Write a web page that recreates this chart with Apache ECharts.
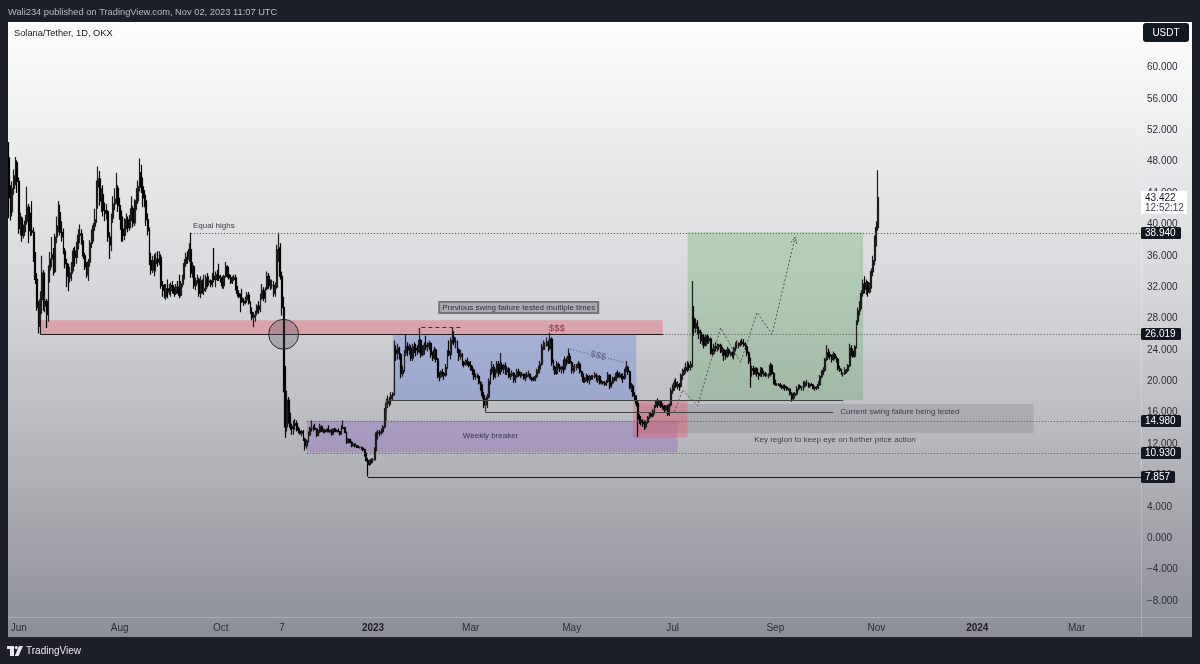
<!DOCTYPE html>
<html><head><meta charset="utf-8">
<script src="https://cdn.jsdelivr.net/npm/echarts@6.0.0/dist/echarts.min.js"></script>
<style>html,body{margin:0;padding:0;background:#1e2029;}#c{width:1200px;height:664px;}</style>
</head><body><div id="c"></div>
<script>
// ---------- categories / ticks ----------
const START_DATE = '2022-05-26';
const DAY_COUNT = 685;
const tickLabels = [
  ['2022-06-01','Jun'],['2022-08-01','Aug'],['2022-10-01','Oct'],['2022-11-07','7'],
  ['2023-01-01','2023'],['2023-03-01','Mar'],['2023-05-01','May'],['2023-07-01','Jul'],
  ['2023-09-01','Sep'],['2023-11-01','Nov'],['2024-01-01','2024'],['2024-03-01','Mar']
];
const yearLabels = ['2023','2024'];

// ---------- daily candles [open, close, low, high] (SOL/USDT, OKX, 1D) ----------
const may22 = [[48.5,43.4,40.8,50.5],[43.4,41.6,40.5,45.0],[41.6,44.6,41.0,45.5],[44.6,46.2,43.8,47.0],[46.2,47.9,45.0,48.6],[47.9,45.5,44.0,48.2]];
const jun22 = [[45.5,39.5,38.8,46.0],[39.5,40.8,38.6,41.5],[40.8,38.6,37.8,41.0],[38.6,39.4,38.2,40.0],[39.4,40.4,39.0,41.2],[40.4,42.2,40.0,44.8],[42.2,39.8,37.6,42.6],[39.8,39.2,38.5,41.5],[39.2,39.0,38.6,43.0],[39.0,35.8,35.2,39.6],[35.8,33.0,32.4,36.5],[33.0,29.4,29.0,33.8],[29.4,27.0,26.1,30.2],[27.0,30.4,26.0,31.5],[30.4,33.8,28.6,36.0],[33.8,29.6,29.0,34.2],[29.6,30.2,28.8,31.5],[30.2,28.5,26.8,30.5],[28.5,34.2,27.6,34.8],[34.2,35.6,32.6,36.5],[35.6,36.2,34.5,38.4],[36.2,34.0,33.5,37.0],[34.0,38.4,33.8,38.8],[38.4,39.8,37.6,41.0],[39.8,41.5,39.0,43.0],[41.5,39.0,38.6,42.5],[39.0,38.4,37.8,40.4],[38.4,36.6,36.2,39.5],[36.6,35.0,34.4,37.0],[35.0,33.4,32.0,35.6]];
const jul22 = [[33.4,33.2,31.5,35.0],[33.2,33.8,32.6,34.6],[33.8,34.5,32.8,35.2],[34.5,36.6,34.0,37.0],[36.6,35.8,34.6,37.2],[35.8,37.2,35.0,37.8],[37.2,38.6,36.8,39.4],[38.6,38.8,37.6,40.0],[38.8,37.8,37.4,39.4],[37.8,36.0,35.6,38.0],[36.0,34.6,34.2,36.4],[34.6,33.6,33.2,35.2],[33.6,35.2,32.8,35.6],[35.2,37.6,34.6,38.0],[37.6,38.8,37.0,39.4],[38.8,39.8,37.8,40.2],[39.8,40.6,39.2,42.0],[40.6,44.8,40.2,45.6],[44.8,45.8,42.0,47.4],[45.8,43.0,42.4,46.8],[43.0,43.8,41.6,44.6],[43.8,41.8,41.0,45.0],[41.8,41.4,40.4,42.8],[41.4,41.6,40.6,42.6],[41.6,38.4,37.8,41.8],[38.4,37.4,35.6,39.0],[37.4,40.8,36.6,41.4],[40.8,42.6,40.2,43.6],[42.6,43.2,41.8,44.6],[43.2,44.6,42.6,46.6],[44.6,42.4,41.6,45.0]];
const aug22 = [[42.4,41.2,40.6,43.4],[41.2,39.4,37.8,41.8],[39.4,38.6,37.8,41.0],[38.6,40.0,38.0,40.8],[40.0,40.6,39.4,41.4],[40.6,39.6,39.0,41.0],[39.6,40.8,39.2,41.2],[40.8,42.0,40.4,43.6],[42.0,40.2,39.6,42.4],[40.2,42.6,39.8,43.2],[42.6,43.0,41.8,44.6],[43.0,44.8,42.6,45.6],[44.8,46.6,44.2,48.4],[46.6,44.8,44.0,47.6],[44.8,43.4,42.2,46.0],[43.4,43.0,42.2,44.4],[43.0,40.6,39.8,43.8],[40.6,39.2,38.6,41.4],[39.2,35.4,34.8,39.6],[35.4,34.2,33.6,36.4],[34.2,35.4,33.8,36.0],[35.4,35.0,33.4,36.2],[35.0,35.6,34.0,36.4],[35.6,35.2,34.6,36.6],[35.2,35.8,34.8,36.6],[35.8,32.2,31.8,36.2],[32.2,31.6,30.8,32.8],[31.6,30.8,30.6,32.4],[30.8,31.8,30.4,32.4],[31.8,31.4,30.6,33.0],[31.4,31.6,31.0,32.4]];
const sep22 = [[31.6,32.2,30.8,32.6],[32.2,31.6,31.2,32.8],[31.6,31.2,30.8,32.0],[31.2,32.0,31.0,32.4],[32.0,31.8,31.2,32.8],[31.8,31.0,30.6,33.6],[31.0,32.4,30.8,32.8],[32.4,33.2,32.0,33.6],[33.2,35.0,33.0,35.6],[35.0,35.8,34.6,36.4],[35.8,35.6,35.0,36.6],[35.6,36.8,35.2,37.6],[36.8,33.8,33.2,38.94],[33.8,34.6,33.2,35.2],[34.6,32.2,31.8,34.8],[32.2,32.8,31.6,33.2],[32.8,33.0,32.4,33.6],[33.0,31.2,30.8,33.2],[31.2,32.8,30.6,33.4],[32.8,31.6,31.2,33.0],[31.6,31.8,31.0,33.6],[31.8,33.2,31.4,33.6],[33.2,32.6,32.0,33.8],[32.6,32.8,32.2,33.4],[32.8,32.4,32.0,33.0],[32.4,33.4,32.0,33.8],[33.4,33.0,32.6,37.0],[33.0,33.6,32.0,34.0],[33.6,33.4,32.8,34.2],[33.4,33.2,32.8,35.0]];
const oct22 = [[33.2,33.0,32.6,33.6],[33.0,32.2,31.8,33.4],[32.2,33.4,31.8,33.6],[33.4,34.6,33.2,35.2],[34.6,33.6,33.2,34.8],[33.6,33.2,33.0,34.6],[33.2,32.6,32.4,33.6],[32.6,33.0,32.4,33.4],[33.0,33.2,32.8,33.6],[33.2,32.0,31.6,33.6],[32.0,31.2,30.8,32.2],[31.2,30.8,30.6,31.6],[30.8,30.6,28.8,31.2],[30.6,30.2,30.0,31.8],[30.2,30.0,29.6,30.6],[30.0,30.4,29.8,30.8],[30.4,31.0,30.0,31.4],[31.0,30.0,29.8,31.4],[30.0,28.8,28.6,30.2],[28.8,28.2,27.8,29.4],[28.2,28.4,26.9,28.8],[28.4,28.8,27.6,29.0],[28.8,29.6,28.4,29.8],[29.6,29.2,28.6,30.2],[29.2,30.6,28.8,31.2],[30.6,31.6,30.4,32.4],[31.6,30.6,30.2,32.0],[30.6,31.8,30.0,32.0],[31.8,33.4,31.6,34.0],[33.4,32.2,31.8,33.8],[32.2,32.2,31.6,33.0]];
const nov22 = [[32.2,32.2,31.8,33.0],[32.2,31.2,30.8,32.8],[31.2,32.0,30.8,32.6],[32.0,36.8,31.8,37.4],[36.8,37.0,35.2,38.94],[37.0,33.4,33.0,37.6],[33.4,29.4,28.4,34.0],[29.4,21.6,18.6,30.8],[21.6,14.2,12.8,22.0],[14.2,17.6,13.6,18.8],[17.6,15.6,14.6,18.0],[15.6,14.2,13.8,16.0],[14.2,14.0,13.2,14.6],[14.0,14.4,13.2,15.0],[14.4,14.6,13.8,15.2],[14.6,13.8,13.6,15.0],[13.8,13.6,13.4,14.2],[13.6,13.4,13.2,14.0],[13.4,13.6,13.0,13.8],[13.6,12.6,12.4,13.8],[12.6,11.8,11.2,12.8],[11.8,12.4,11.4,12.6],[12.4,13.2,12.2,13.6],[13.2,14.0,13.0,14.2],[14.0,14.0,13.6,15.0],[14.0,14.0,13.6,14.4],[14.0,13.9,13.8,14.6],[13.9,13.1,12.9,14.0],[13.1,13.6,13.0,13.8],[13.6,14.2,13.4,14.6]];
const dec22 = [[14.2,13.7,13.5,14.4],[13.7,13.8,13.4,14.0],[13.8,13.6,13.4,13.9],[13.6,13.9,13.5,14.0],[13.9,13.6,13.5,14.4],[13.6,13.8,13.4,13.9],[13.8,13.3,13.1,13.9],[13.3,13.9,13.2,14.0],[13.9,13.6,13.5,14.1],[13.6,13.7,13.5,13.9],[13.7,13.6,13.5,14.0],[13.6,13.3,13.1,13.7],[13.3,14.0,13.2,14.4],[14.0,14.1,13.9,15.0],[14.1,13.5,13.4,14.2],[13.5,12.2,12.0,13.6],[12.2,12.6,12.1,12.8],[12.6,12.2,12.1,12.7],[12.2,11.8,11.6,12.4],[11.8,12.0,11.7,12.3],[12.0,11.8,11.6,12.1],[11.8,11.7,11.5,11.9],[11.7,11.6,11.5,11.9],[11.6,11.6,11.4,11.7],[11.6,11.5,11.3,11.7],[11.5,11.3,11.1,11.6],[11.3,10.8,10.4,11.4],[10.8,9.9,9.8,10.9],[9.9,9.4,7.86,10.2],[9.4,9.6,9.2,10.0],[9.6,10.0,9.5,10.2]];
const jan23 = [[10.0,10.0,9.6,10.2],[10.0,11.3,9.9,11.6],[11.3,13.4,11.1,13.6],[13.4,13.5,12.6,13.8],[13.5,13.4,13.0,13.8],[13.4,13.6,13.2,14.0],[13.6,14.2,13.4,14.4],[14.2,16.2,14.0,16.6],[16.2,17.2,16.0,17.8],[17.2,17.6,16.6,18.2],[17.6,17.8,16.8,18.0],[17.8,18.2,17.0,18.6],[18.2,18.4,17.6,18.6],[18.4,24.0,18.2,25.2],[24.0,23.6,22.6,24.6],[23.6,24.2,22.8,24.8],[24.2,23.4,22.8,24.4],[23.4,21.0,20.4,23.6],[21.0,21.4,20.6,22.0],[21.4,23.6,21.2,24.0],[23.6,24.4,23.2,26.0],[24.4,24.0,23.2,25.0],[24.0,24.2,23.4,24.8],[24.2,23.0,22.6,24.6],[23.0,24.4,22.6,24.8],[24.4,24.2,23.6,25.0],[24.2,24.0,23.2,24.8],[24.0,23.8,23.4,24.6],[23.8,25.2,23.6,26.8],[25.2,23.4,23.0,25.4],[23.4,24.2,23.2,24.6]];
const feb23 = [[24.2,24.6,23.4,25.0],[24.6,24.4,24.0,25.8],[24.4,24.6,23.8,25.0],[24.6,24.8,24.0,25.2],[24.8,23.4,23.0,25.0],[23.4,23.0,22.6,23.8],[23.0,24.0,22.8,24.4],[24.0,22.8,22.4,24.2],[22.8,20.8,20.4,23.0],[20.8,20.6,20.0,21.2],[20.6,21.2,20.4,21.4],[21.2,21.0,20.6,21.6],[21.0,20.8,20.2,21.2],[20.8,21.8,20.6,22.2],[21.8,23.8,21.6,24.0],[23.8,23.4,23.2,25.2],[23.4,25.2,22.8,25.6],[25.2,25.6,24.8,26.9],[25.6,25.0,24.6,26.4],[25.0,25.0,24.2,25.6],[25.0,24.0,23.6,25.2],[24.0,23.2,22.6,24.2],[23.2,23.4,22.8,24.0],[23.4,22.4,22.0,23.6],[22.4,22.2,21.8,22.6],[22.2,22.6,22.0,22.8],[22.6,22.4,22.0,23.0],[22.4,22.0,21.8,22.6]];
const mar23 = [[22.0,21.8,21.4,22.6],[21.8,21.4,20.8,22.0],[21.4,20.6,20.2,21.6],[20.6,20.6,20.2,21.0],[20.6,20.6,20.4,21.0],[20.6,19.8,19.6,20.8],[19.8,19.4,18.8,20.0],[19.4,18.2,17.8,19.6],[18.2,17.0,16.6,18.6],[17.0,17.4,16.2,17.8],[17.4,18.0,16.6,18.4],[18.0,20.0,17.8,20.4],[20.0,21.2,19.6,21.6],[21.2,21.8,20.8,22.6],[21.8,20.6,20.2,22.2],[20.6,21.2,20.4,21.6],[21.2,22.2,21.0,22.6],[22.2,21.0,20.6,22.6],[21.0,22.0,20.8,23.6],[22.0,21.6,21.2,22.4],[21.6,22.0,21.0,22.2],[22.0,21.2,20.8,22.4],[21.2,21.6,20.8,22.0],[21.6,20.6,20.4,21.8],[20.6,20.8,20.2,21.0],[20.8,21.0,20.6,21.4],[21.0,20.2,19.8,21.2],[20.2,20.6,19.8,20.8],[20.6,21.2,20.4,21.6],[21.2,20.8,20.6,21.6],[20.8,20.8,20.4,21.2]];
const apr23 = [[20.8,20.9,20.6,21.2],[20.9,20.4,20.2,21.0],[20.4,20.6,20.0,21.0],[20.6,20.8,20.4,21.2],[20.8,20.9,20.6,21.4],[20.9,20.4,20.2,21.0],[20.4,20.2,20.0,20.6],[20.2,20.2,20.0,20.6],[20.2,20.6,20.0,20.8],[20.6,21.4,20.4,21.6],[21.4,21.6,21.0,22.0],[21.6,22.2,21.0,22.6],[22.2,24.4,22.0,24.8],[24.4,24.6,24.0,25.2],[24.6,24.6,24.0,25.0],[24.6,25.0,24.4,25.6],[25.0,24.2,23.8,25.2],[24.2,25.4,24.0,26.2],[25.4,22.4,22.0,25.6],[22.4,21.8,21.4,22.8],[21.8,21.0,20.8,22.0],[21.0,22.2,20.8,22.6],[22.2,21.8,21.6,22.4],[21.8,21.6,21.2,22.2],[21.6,21.8,21.0,22.0],[21.8,21.6,21.0,22.8],[21.6,22.8,21.4,23.2],[22.8,22.4,22.0,23.0],[22.4,23.2,22.2,24.2],[23.2,22.4,22.2,23.6]];
const may23 = [[22.4,21.4,21.0,22.6],[21.4,21.8,21.0,22.0],[21.8,21.8,21.2,22.2],[21.8,21.8,21.4,22.2],[21.8,22.2,21.6,22.6],[22.2,21.2,21.0,22.4],[21.2,20.8,20.6,21.4],[20.8,20.0,19.8,21.0],[20.0,20.4,19.8,20.6],[20.4,20.6,20.0,21.0],[20.6,20.2,19.8,20.8],[20.2,20.6,19.6,20.8],[20.6,20.6,20.2,20.8],[20.6,20.6,20.2,20.8],[20.6,20.8,20.4,21.2],[20.8,20.2,20.0,21.0],[20.2,20.6,19.8,20.8],[20.6,19.8,19.6,20.8],[19.8,19.9,19.6,20.2],[19.9,19.8,19.6,20.0],[19.8,19.6,19.4,20.0],[19.6,20.0,19.4,20.2],[20.0,20.8,19.8,21.2],[20.8,19.4,19.0,20.9],[19.4,19.8,19.2,20.0],[19.8,20.4,19.6,20.6],[20.4,20.2,20.0,20.6],[20.2,21.0,20.0,21.2],[21.0,20.6,20.4,21.4],[20.6,20.8,20.4,21.2],[20.8,20.6,20.2,21.0]];
const jun23 = [[20.6,20.4,19.8,21.0],[20.4,21.4,20.2,21.6],[21.4,21.8,21.2,22.6],[21.8,21.2,20.8,22.0],[21.2,19.2,19.0,21.4],[19.2,19.4,18.6,19.8],[19.4,18.2,18.0,19.6],[18.2,18.0,17.6,18.6],[18.0,17.2,16.8,18.2],[17.2,15.2,12.9,17.6],[15.2,15.0,14.6,15.8],[15.0,14.8,14.4,15.6],[14.8,14.6,14.2,15.2],[14.6,14.2,13.8,15.0],[14.2,14.8,14.0,15.0],[14.8,15.4,14.6,15.6],[15.4,15.8,15.2,16.0],[15.8,15.6,15.4,16.0],[15.6,16.2,15.4,16.4],[16.2,16.8,15.8,17.0],[16.8,17.4,16.6,17.6],[17.4,17.0,16.6,17.8],[17.0,17.4,16.8,17.6],[17.4,16.8,16.6,17.6],[16.8,16.6,16.4,17.2],[16.6,16.4,16.0,17.0],[16.4,16.8,16.2,17.0],[16.8,15.8,15.6,17.0],[15.8,17.0,15.6,17.2],[17.0,18.8,16.8,19.2]];
const jul23 = [[18.8,19.0,18.4,19.6],[19.0,19.8,18.8,20.2],[19.8,19.4,19.2,20.4],[19.4,19.6,19.0,20.0],[19.6,19.4,18.8,19.8],[19.4,20.8,19.2,21.0],[20.8,21.2,20.2,21.6],[21.2,21.4,20.8,21.8],[21.4,21.8,21.0,22.4],[21.8,22.0,21.2,22.6],[22.0,21.8,21.4,22.4],[21.8,22.2,21.4,22.6],[22.2,28.0,21.8,32.8],[28.0,26.8,25.8,29.6],[26.8,27.4,26.2,28.0],[27.4,26.4,26.0,27.8],[26.4,26.2,25.4,27.0],[26.2,25.2,24.8,26.6],[25.2,25.6,24.6,26.0],[25.6,24.6,24.2,26.0],[24.6,25.8,24.4,26.0],[25.8,25.2,24.8,26.0],[25.2,25.4,24.8,25.8],[25.4,23.8,23.4,25.6],[23.8,23.6,23.2,24.2],[23.6,24.4,23.4,24.8],[24.4,24.2,23.8,25.0],[24.2,24.4,23.8,24.8],[24.4,24.6,24.0,24.8],[24.6,23.8,23.6,24.8],[23.8,24.0,23.2,24.4]];
const aug23 = [[24.0,23.4,22.6,24.2],[23.4,23.2,22.8,24.0],[23.2,24.0,23.0,24.4],[24.0,23.6,23.2,24.2],[23.6,23.6,23.2,23.8],[23.6,23.4,23.0,23.8],[23.4,24.2,22.8,24.4],[24.2,24.6,23.8,25.0],[24.6,24.6,24.2,25.2],[24.6,24.8,24.2,25.0],[24.8,25.0,24.4,25.2],[25.0,24.8,24.6,25.4],[24.8,24.6,24.4,25.4],[24.6,24.4,24.0,25.0],[24.4,23.6,23.2,24.6],[23.6,22.6,22.2,23.8],[22.6,21.4,19.2,23.0],[21.4,21.6,20.6,22.0],[21.6,21.0,20.8,22.0],[21.0,21.6,20.8,21.8],[21.6,21.0,20.6,21.8],[21.0,20.8,20.2,21.2],[20.8,21.6,20.6,21.8],[21.6,21.0,20.6,21.8],[21.0,21.0,20.6,21.4],[21.0,20.8,20.6,21.2],[20.8,20.8,20.6,21.0],[20.8,20.8,20.4,21.0],[20.8,22.0,20.6,22.4],[22.0,21.0,20.8,22.2],[21.0,19.8,19.6,21.2]];
const sep23 = [[19.8,19.6,19.4,20.2],[19.6,19.6,19.4,19.8],[19.6,19.6,19.4,19.8],[19.6,19.4,19.2,19.8],[19.4,19.2,19.0,19.6],[19.2,19.4,19.0,19.6],[19.4,19.2,18.8,19.6],[19.2,19.0,18.8,19.4],[19.0,19.0,18.8,19.2],[19.0,18.4,18.2,19.1],[18.4,17.8,17.4,18.6],[17.8,18.2,17.6,18.6],[18.2,18.4,17.8,18.6],[18.4,19.0,18.2,19.4],[19.0,19.4,18.8,19.6],[19.4,19.2,19.0,19.6],[19.2,19.2,18.8,19.4],[19.2,19.4,18.8,20.0],[19.4,19.8,19.2,20.0],[19.8,19.8,19.4,20.2],[19.8,19.4,19.2,19.9],[19.4,19.6,19.2,19.8],[19.6,19.5,19.4,19.8],[19.5,19.1,19.0,19.6],[19.1,19.2,18.8,19.4],[19.2,19.2,18.9,19.4],[19.2,19.6,19.0,20.0],[19.6,20.6,19.4,20.8],[20.6,21.0,20.4,21.4],[21.0,21.4,20.8,21.8]];
const oct23 = [[21.4,22.8,21.2,23.0],[22.8,23.6,22.6,24.6],[23.6,23.4,23.0,24.2],[23.4,23.2,22.8,23.8],[23.2,22.8,22.4,23.4],[22.8,23.4,22.6,23.8],[23.4,23.0,22.8,23.6],[23.0,22.8,22.4,23.2],[22.8,21.6,21.4,23.0],[21.6,21.4,21.2,22.0],[21.4,21.0,20.8,21.6],[21.0,21.0,20.6,21.2],[21.0,21.4,20.8,21.8],[21.4,21.4,21.0,21.6],[21.4,22.0,21.2,22.2],[22.0,24.2,21.8,24.8],[24.2,23.8,23.2,24.6],[23.8,23.2,23.0,24.2],[23.2,24.4,23.0,24.6],[24.4,27.6,24.2,27.8],[27.6,29.0,27.2,29.4],[29.0,29.8,28.4,30.2],[29.8,31.2,29.2,31.6],[31.2,32.4,30.8,33.0],[32.4,31.8,31.2,33.4],[31.8,32.6,31.0,33.0],[32.6,31.4,30.8,32.8],[31.4,32.2,31.2,32.6],[32.2,34.0,31.8,34.4],[34.0,35.4,33.4,36.0],[35.4,38.2,34.8,38.6]];
const nov23 = [[38.2,39.6,37.2,40.4],[39.6,43.422,39.2,46.9]];
const candles = [].concat(may22, jun22, jul22, aug22, sep22, oct22, nov22, dec22,
  jan23, feb23, mar23, apr23, may23, jun23, jul23, aug23, sep23, oct23, nov23);

// ---------- drawn levels and annotations (dates / prices) ----------
const lastPrice = 43.422;
const countdown = '12:52:12';
const priceTags = [38.94, 26.019, 14.98, 10.93, 7.857];
const rays = [
  { from: '2022-09-13', price: 38.94, solid: false },
  { from: '2023-06-25', price: 26.019, solid: false },
  { from: '2022-11-22', price: 14.98, solid: false },
  { from: '2022-11-22', price: 10.93, solid: false },
  { from: '2022-12-29', price: 7.857, solid: true }
];
const zones = [
  { id: 'resistance', from: '2022-06-14', to: '2023-06-25', top: 27.8, bottom: 26.02 },
  { id: 'range',      from: '2023-01-13', to: '2023-06-09', top: 26.0, bottom: 17.6 },
  { id: 'breaker',    from: '2022-11-22', to: '2023-07-04', top: 14.98, bottom: 10.93 },
  { id: 'keyRegion',  from: '2023-06-09', to: '2024-02-04', top: 17.1, bottom: 13.4 },
  { id: 'sweep',      from: '2023-06-07', to: '2023-07-10', top: 17.6, bottom: 12.8 },
  { id: 'target',     from: '2023-07-10', to: '2023-10-24', top: 39.0, bottom: 17.6 }
];
const segments = [
  { id: 'swingLine', pts: [['2022-06-14', 26.019], ['2023-06-25', 26.019]] },
  { id: 'rangeLow',  pts: [['2023-01-09', 15.0], ['2023-01-09', 17.6], ['2023-10-12', 17.6]] },
  { id: 'sfpLow',    pts: [['2023-03-10', 17.6], ['2023-03-10', 16.1], ['2023-10-06', 16.1]] },
  { id: 'topDash',   pts: [['2023-01-29', 26.35], ['2023-01-29', 26.9], ['2023-02-24', 26.9]] },
  { id: 'liqSlope',  pts: [['2023-04-30', 24.1], ['2023-06-04', 22.3]] },
  { id: 'projection', pts: [['2023-07-02', 16.1], ['2023-07-07', 18.9], ['2023-07-16', 16.9], ['2023-07-30', 26.8],
                            ['2023-08-11', 22.4], ['2023-08-21', 28.8], ['2023-08-30', 26.0], ['2023-09-13', 38.4]] }
];
const circleMark = ['2022-11-08', 26.0];
const notes = [
  { id: 'equal',   text: 'Equal highs', at: ['2022-09-13', 38.94] },
  { id: 'boxed',   text: 'Previous swing failure tested multiple times', at: ['2023-03-30', 29.42] },
  { id: 'liqRed',  text: '$$$', at: ['2023-04-22', 26.81] },
  { id: 'liqSlope',text: '$$$', at: ['2023-05-17', 23.24] },
  { id: 'breaker', text: 'Weekly breaker', at: ['2023-03-13', 13.04] },
  { id: 'current', text: 'Current swing failure being tested', at: ['2023-10-06', 16.1] },
  { id: 'key',     text: 'Key region to keep eye on further price action', at: ['2023-10-07', 12.53] }
];

// ---------- styles ----------
const FONT = '"Liberation Sans", Arial, Helvetica, sans-serif';
const zoneFill = {
  resistance: 'rgba(235,95,110,0.40)', range: 'rgba(70,110,220,0.30)', breaker: 'rgba(130,80,190,0.30)',
  keyRegion: 'rgba(100,100,112,0.20)', sweep: 'rgba(240,90,110,0.40)', target: 'rgba(90,170,90,0.30)'
};
const segStyle = {
  swingLine: { stroke: '#1c1c1c', dash: null, w: 1.2 },
  rangeLow: { stroke: '#444', dash: null, w: 1 },
  sfpLow: { stroke: '#444', dash: null, w: 1 },
  topDash: { stroke: '#333', dash: [4, 3], w: 1 },
  liqSlope: { stroke: '#555', dash: [1, 2], w: 1 },
  projection: { stroke: '#555', dash: [2, 2], w: 1 }
};

// ---------- helpers ----------
const DAY = 86400000;
const t0 = Date.parse(START_DATE);
const categories = [];
for (let i = 0; i < DAY_COUNT; i++) categories.push(new Date(t0 + i * DAY).toISOString().slice(0, 10));
const idx = d => Math.round((Date.parse(d) - t0) / DAY);
const labelMap = Object.fromEntries(tickLabels);
const crisp = v => Math.round(v) + 0.5;

function zonesRender(params, api) {
  const children = zones.map(z => {
    const a = api.coord([idx(z.from), z.top]);
    const b = api.coord([idx(z.to), z.bottom]);
    return { type: 'rect', shape: { x: a[0], y: a[1], width: b[0] - a[0], height: b[1] - a[1] },
             style: { fill: zoneFill[z.id] } };
  });
  return { type: 'group', children };
}

function annotRender(params, api) {
  const bw = api.size([1, 0])[0];
  const rightX = api.coord([DAY_COUNT - 1, 0])[0] + bw / 2;
  const C = (d, p) => api.coord([idx(d), p]);
  const ch = [];
  const line = (pts, stroke, dash, w) => ch.push({ type: 'polyline', shape: { points: pts },
    style: { stroke, lineWidth: w || 1, lineDash: dash || null, fill: null } });
  const text = (x, y, t, o) => ch.push(Object.assign({ type: 'text', x, y,
    style: Object.assign({ text: t, fill: '#3b3d48', fontSize: 8, fontFamily: FONT, align: 'center', verticalAlign: 'middle' }, o && o.style) },
    o && o.el));

  rays.forEach(r => {
    const a = C(r.from, r.price); const y = crisp(a[1]);
    line([[a[0], y], [rightX, y]], r.solid ? '#1c1c1c' : '#555', r.solid ? null : [1, 2], 1);
  });
  segments.forEach(s => {
    const st = segStyle[s.id];
    const pts = s.pts.map(p => { const c = C(p[0], p[1]); return [c[0], s.id === 'projection' || s.id === 'liqSlope' ? c[1] : crisp(c[1])]; });
    line(pts, st.stroke, st.dash, st.w);
    if (s.id === 'projection') {
      const n = pts.length, e = pts[n - 1], p = pts[n - 2];
      const ang = Math.atan2(e[1] - p[1], e[0] - p[0]);
      const L = 7, spread = 0.45;
      line([[e[0] - L * Math.cos(ang - spread), e[1] - L * Math.sin(ang - spread)], e,
            [e[0] - L * Math.cos(ang + spread), e[1] - L * Math.sin(ang + spread)]], st.stroke, [2, 1], 1);
    }
  });
  const cc = C(circleMark[0], circleMark[1]);
  ch.push({ type: 'circle', shape: { cx: cc[0], cy: cc[1], r: 15 },
            style: { fill: 'rgba(90,90,102,0.32)', stroke: '#2a2a2a', lineWidth: 1 } });
  notes.forEach(n => {
    const c = C(n.at[0], n.at[1]);
    if (n.id === 'equal') text(c[0] + 2, c[1] - 7, n.text, { style: { align: 'left', fill: '#3a3a40' } });
    else if (n.id === 'boxed') text(c[0], c[1], n.text, { style: { fill: '#2f313a', backgroundColor: 'rgba(128,130,140,0.5)',
      borderColor: '#6f717b', borderWidth: 1, padding: [2, 3, 1, 3] } });
    else if (n.id === 'liqRed') text(c[0], c[1], n.text, { style: { fill: '#8a3646', fontSize: 9.5 } });
    else if (n.id === 'liqSlope') {
      const s = segments.find(q => q.id === 'liqSlope').pts;
      const a = C(s[0][0], s[0][1]), b = C(s[1][0], s[1][1]);
      text(c[0], c[1], n.text, { style: { fill: '#5f6488', fontSize: 9.5 }, el: { rotation: -Math.atan2(b[1] - a[1], b[0] - a[0]) } });
    }
    else if (n.id === 'current') text(c[0] + 7, c[1], n.text, { style: { align: 'left', fill: '#3e4049' } });
    else text(c[0], c[1], n.text, { style: { fill: n.id === 'breaker' ? '#3a3b52' : '#3e4049' } });
  });
  const tagX = rightX - 1;
  priceTags.forEach(v => {
    const y = api.coord([0, v])[1];
    const t = v.toFixed(3);
    const w = v >= 10 ? 40 : 34;
    ch.push({ type: 'rect', shape: { x: tagX, y: Math.round(y) - 6, width: w, height: 12, r: 1.5 }, style: { fill: '#131722' } });
    text(tagX + 4, Math.round(y), t, { style: { align: 'left', fill: '#ffffff', fontSize: 10 } });
  });
  const ly = api.coord([0, lastPrice])[1];
  ch.push({ type: 'rect', shape: { x: tagX, y: Math.round(ly) - 7, width: 46, height: 23, r: 1.5 }, style: { fill: '#ffffff' } });
  text(tagX + 4, Math.round(ly), lastPrice.toFixed(3), { style: { align: 'left', fill: '#131722', fontSize: 10 } });
  text(tagX + 4, Math.round(ly) + 10.5, countdown, { style: { align: 'left', fill: '#3c3f48', fontSize: 10 } });
  return { type: 'group', children: ch };
}

// ---------- chart ----------
const chart = echarts.init(document.getElementById('c'), null, { renderer: 'canvas' });
chart.setOption({
  animation: false,
  backgroundColor: '#1e2029',
  grid: { left: 8, right: 58, top: 4.8, bottom: 31.6, containLabel: false, outerBoundsMode: 'none' },
  xAxis: {
    type: 'category', data: categories, boundaryGap: true, offset: -15,
    axisLine: { show: false, onZero: false }, axisTick: { show: false }, splitLine: { show: false },
    axisLabel: {
      margin: 6, fontSize: 10, fontFamily: FONT, color: '#2a2d36',
      interval: (i, v) => labelMap[v] !== undefined,
      formatter: v => { const t = labelMap[v] || ''; return yearLabels.includes(t) ? '{b|' + t + '}' : t; },
      rich: { b: { fontWeight: 'bold', fontSize: 10, fontFamily: FONT, color: '#1a1c22' } }
    }
  },
  yAxis: {
    type: 'value', position: 'right', min: -12, max: 68, interval: 4, scale: true,
    axisLine: { show: false }, axisTick: { show: false }, splitLine: { show: false },
    axisLabel: {
      margin: 5, fontSize: 10, fontFamily: FONT, color: '#2a2d36', align: 'left',
      formatter: v => (v > 62 || v < -10) ? '' : (v < 0 ? '\u2212' : '') + Math.abs(v).toFixed(3)
    }
  },
  graphic: [
    { type: 'rect', z: -10, shape: { x: 8, y: 22, width: 1184, height: 615 },
      style: { fill: { type: 'linear', x: 0, y: 0, x2: 0, y2: 1, colorStops: [
        { offset: 0, color: '#fdfdfd' }, { offset: 0.45, color: '#d5d6d9' }, { offset: 1, color: '#8d8f97' }] } } },
    { type: 'line', z: -9, shape: { x1: 1141.5, y1: 22, x2: 1141.5, y2: 637 }, style: { stroke: 'rgba(255,255,255,0.22)', lineWidth: 1 } },
    { type: 'line', z: -9, shape: { x1: 8, y1: 617.5, x2: 1192, y2: 617.5 }, style: { stroke: 'rgba(255,255,255,0.22)', lineWidth: 1 } },
    { type: 'text', z: 20, x: 8, y: 12, style: { text: 'Wali234 published on TradingView.com, Nov 02, 2023 11:07 UTC',
      fill: '#b8bbc4', fontSize: 9.3, fontFamily: FONT, verticalAlign: 'middle' } },
    { type: 'text', z: 20, x: 14, y: 33, style: { text: 'Solana/Tether, 1D, OKX', fill: '#131722', fontSize: 9.3, fontFamily: FONT, verticalAlign: 'middle' } },
    { type: 'rect', z: 20, shape: { x: 1143, y: 23, width: 46, height: 19, r: 3 }, style: { fill: '#131722' } },
    { type: 'text', z: 21, x: 1166, y: 33, style: { text: 'USDT', fill: '#ffffff', fontSize: 10, fontFamily: FONT, align: 'center', verticalAlign: 'middle' } },
    { type: 'rect', z: 20, shape: { x: 7, y: 646, width: 7, height: 3 }, style: { fill: '#e8e9ec' } },
    { type: 'rect', z: 20, shape: { x: 10, y: 646, width: 4, height: 10 }, style: { fill: '#e8e9ec' } },
    { type: 'circle', z: 20, shape: { cx: 16.3, cy: 647.6, r: 1.6 }, style: { fill: '#e8e9ec' } },
    { type: 'polygon', z: 20, shape: { points: [[19, 646], [23, 646], [18.5, 656], [14.8, 656]] }, style: { fill: '#e8e9ec' } },
    { type: 'text', z: 20, x: 26, y: 651, style: { text: 'TradingView', fill: '#e8e9ec', fontSize: 10, fontWeight: 500, fontFamily: FONT, verticalAlign: 'middle' } }
  ],
  series: [
    { type: 'custom', name: 'zones', z: 1, silent: true, renderItem: zonesRender, data: [[0, 0]] },
    { type: 'candlestick', name: 'SOLUSDT', z: 2, data: candles, barWidth: '80%',
      itemStyle: { color: '#1c1c1c', color0: '#000000', borderColor: '#1c1c1c', borderColor0: '#000000', borderWidth: 1.2 } },
    { type: 'custom', name: 'annotations', z: 5, silent: true, renderItem: annotRender, data: [[0, 0]] }
  ]
});
</script></body></html>
